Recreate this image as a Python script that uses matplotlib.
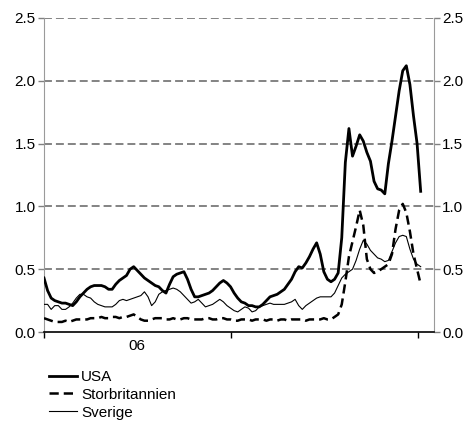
import numpy as np
import pandas as pd
import matplotlib
matplotlib.use('Agg')
import matplotlib.pyplot as plt
import matplotlib.dates as mdates

plt.rcParams['font.family'] = ['Liberation Sans', 'DejaVu Sans']

# Weekly observations, Jan 2006 - Jan 2008
dates = pd.date_range('2006-01-01', periods=106, freq='7D')

usa = [0.43, 0.33, 0.27, 0.25, 0.24, 0.23, 0.23, 0.22, 0.21, 0.24,
       0.28, 0.31, 0.34, 0.36, 0.37, 0.37, 0.37, 0.36, 0.34, 0.34,
       0.38, 0.41, 0.43, 0.45, 0.50, 0.52, 0.49, 0.46, 0.43, 0.41,
       0.39, 0.37, 0.36, 0.33, 0.31, 0.38, 0.44, 0.46, 0.47, 0.48,
       0.42, 0.34, 0.28, 0.28, 0.29, 0.30, 0.31, 0.33, 0.36, 0.39,
       0.41, 0.39, 0.36, 0.31, 0.27, 0.24, 0.23, 0.21, 0.21, 0.20,
       0.20, 0.22, 0.25, 0.28, 0.29, 0.30, 0.32, 0.34, 0.38, 0.42,
       0.48, 0.52, 0.51, 0.55, 0.60, 0.66, 0.71, 0.62, 0.48, 0.42,
       0.40, 0.42, 0.47, 0.75, 1.35, 1.62, 1.40, 1.48, 1.57, 1.52,
       1.43, 1.36, 1.20, 1.14, 1.13, 1.10, 1.34, 1.52, 1.72, 1.92,
       2.08, 2.12, 1.97, 1.72, 1.50, 1.12]

uk = [0.11, 0.10, 0.09, 0.08, 0.08, 0.08, 0.09, 0.08, 0.09, 0.10,
      0.10, 0.10, 0.10, 0.11, 0.11, 0.11, 0.12, 0.11, 0.11, 0.12,
      0.12, 0.11, 0.12, 0.12, 0.13, 0.14, 0.12, 0.10, 0.09, 0.09,
      0.10, 0.11, 0.11, 0.11, 0.10, 0.10, 0.11, 0.10, 0.10, 0.11,
      0.11, 0.10, 0.10, 0.10, 0.10, 0.11, 0.11, 0.10, 0.10, 0.11,
      0.11, 0.10, 0.10, 0.09, 0.09, 0.10, 0.10, 0.10, 0.09, 0.10,
      0.10, 0.10, 0.09, 0.10, 0.10, 0.09, 0.10, 0.10, 0.09, 0.10,
      0.10, 0.10, 0.10, 0.09, 0.10, 0.10, 0.10, 0.10, 0.11, 0.10,
      0.10, 0.12, 0.14, 0.22, 0.40, 0.60, 0.72, 0.84, 0.97, 0.85,
      0.58, 0.50, 0.47, 0.48, 0.50, 0.52, 0.54, 0.62, 0.82, 0.97,
      1.02, 0.95, 0.80, 0.62, 0.50, 0.38]

sverige = [0.22, 0.22, 0.18, 0.21, 0.21, 0.18, 0.18, 0.20, 0.23, 0.27,
           0.30, 0.30, 0.28, 0.27, 0.24, 0.22, 0.21, 0.20, 0.20, 0.20,
           0.22, 0.25, 0.26, 0.25, 0.26, 0.27, 0.28, 0.29, 0.32, 0.28,
           0.21, 0.24, 0.30, 0.32, 0.33, 0.34, 0.35, 0.34, 0.32, 0.29,
           0.26, 0.23, 0.24, 0.26, 0.23, 0.20, 0.21, 0.22, 0.24, 0.26,
           0.24, 0.21, 0.19, 0.17, 0.16, 0.18, 0.20, 0.19, 0.16, 0.17,
           0.20, 0.21, 0.22, 0.23, 0.22, 0.22, 0.22, 0.22, 0.23, 0.24,
           0.26, 0.21, 0.18, 0.21, 0.23, 0.25, 0.27, 0.28, 0.28, 0.28,
           0.28, 0.31, 0.37, 0.43, 0.46, 0.48, 0.50, 0.57, 0.66, 0.73,
           0.70, 0.65, 0.62, 0.59, 0.58, 0.56, 0.57, 0.64, 0.71, 0.76,
           0.77, 0.76, 0.66, 0.58, 0.54, 0.52]

yticks = [0.0, 0.5, 1.0, 1.5, 2.0, 2.5]

fig = plt.figure(figsize=(4.71, 4.21), dpi=100)
ax = fig.add_axes([44 / 471, 1 - 332 / 421, 390 / 471, 314 / 421])

# dashed grid
for v in yticks[1:]:
    ax.axhline(v, color='#7a7a7a', lw=1.3, ls=(0, (4.4, 2.2)), zorder=1)

ax.plot(dates, usa, color='black', lw=2.0, label='USA', zorder=3)
ax.plot(dates, uk, color='black', lw=1.8, ls=(0, (3.7, 2.0)),
        label='Storbritannien', zorder=3)
ax.plot(dates, sverige, color='black', lw=0.8, label='Sverige', zorder=3)

ax.set_ylim(0, 2.5)
ax.set_xlim(pd.Timestamp('2006-01-01'), pd.Timestamp('2008-02-01'))
ax.set_yticks(yticks)
ax.yaxis.set_major_formatter(matplotlib.ticker.FormatStrFormatter('%.1f'))

# year boundaries as ticks, year label in the middle of 2006
ax.xaxis.set_major_locator(mdates.YearLocator())
ax.xaxis.set_major_formatter(matplotlib.ticker.NullFormatter())
ax.set_xticks([pd.Timestamp('2006-07-02')], minor=True)
ax.set_xticklabels(['06'], minor=True)
ax.tick_params(axis='x', which='minor', length=0, labelsize=11, pad=5)
ax.tick_params(axis='x', which='major', length=4, width=1, color='black')
ax.tick_params(axis='y', which='major', length=4, width=1, color='#808080',
               labelsize=11, left=True, right=True, labelleft=True,
               labelright=True, pad=2)

ax.spines['top'].set_visible(False)
ax.spines['left'].set_color('#9a9a9a')
ax.spines['right'].set_color('#9a9a9a')
ax.spines['bottom'].set_color('black')
ax.spines['bottom'].set_linewidth(1.2)

fig.legend(loc='upper left', bbox_to_anchor=(49 / 471, 1 - 370 / 421),
           frameon=False, fontsize=11, handlelength=1.8, handletextpad=0.3,
           labelspacing=0.25, borderpad=0, borderaxespad=0)

fig.savefig('out.png', dpi=100)
